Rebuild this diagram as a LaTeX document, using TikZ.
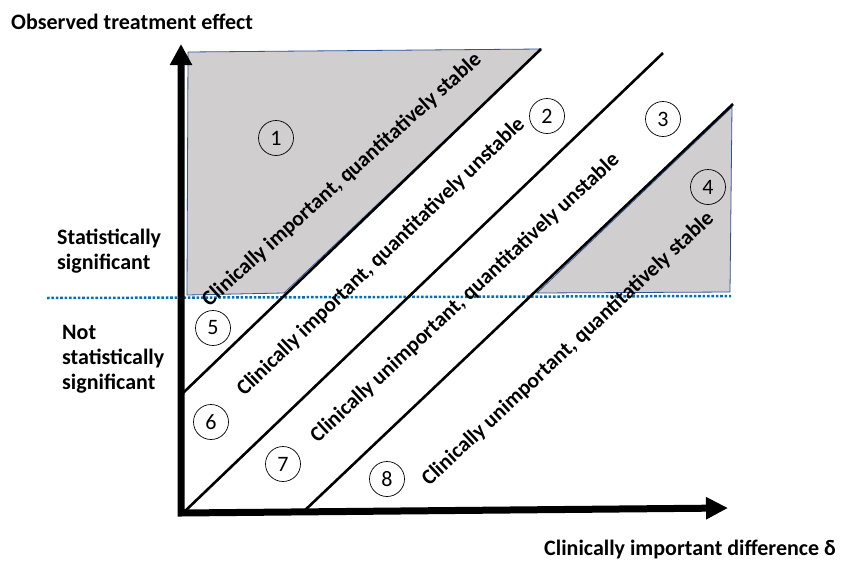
\documentclass[tikz,border=0pt]{standalone}
\usepackage{fontspec}
\setmainfont{Carlito}
\usetikzlibrary{arrows.meta}
\definecolor{regiongray}{RGB}{208,206,206}
\definecolor{regionedge}{RGB}{47,85,151}
\definecolor{sigblue}{RGB}{0,112,192}
\begin{document}
\begin{tikzpicture}[x=1pt,y=-1pt,
    axis/.style={line width=7pt,{Triangle[length=21pt,width=21pt]}-{Triangle[length=22pt,width=21pt]}},
    band/.style={line width=2.6pt},
    region/.style={fill=regiongray,draw=regionedge,line width=0.8pt},
    num/.style={circle,draw,line width=0.7pt,minimum size=35pt,inner sep=0pt,font=\fontsize{22}{22}\selectfont},
    zone/.style={font=\bfseries\fontsize{21.5}{22}\selectfont,inner sep=0pt},
    side/.style={font=\bfseries\fontsize{22}{25}\selectfont,align=left,anchor=west,inner sep=0pt}]
  \useasboundingbox (0,0) rectangle (843,565);
  % shaded regions
  \draw[region] (188,52) -- (541,49) -- (284,293) -- (187,295) -- cycle;
  \draw[region] (732,107) -- (730,292) -- (537,293) -- cycle;
  % significance threshold
  \coordinate (sigL) at (47,298);
  \coordinate (sigR) at (731,296);
  \draw[sigblue,line width=2.5pt,dash pattern=on 2.6pt off 1.8pt] (sigL) -- (sigR);
  % diagonals
  \coordinate (a0) at (183,393);
  \coordinate (a1) at (541,49);
  \coordinate (b0) at (183,513);
  \coordinate (b1) at (663,53);
  \coordinate (c0) at (302,513);
  \coordinate (c1) at (733,104);
  \draw[band] (a0) -- (a1);
  \draw[band] (b0) -- (b1);
  \draw[band] (c0) -- (c1);
  % axes
  \coordinate (O) at (181,513);
  \coordinate (ytip) at (181,44);
  \coordinate (xtip) at (728,508);
  \draw[axis] (ytip) -- (O) -- (xtip);
  % zone labels
  \node[zone,rotate=42] (z1) at (342,180) {Clinically important, quantitatively stable};
  \node[zone,rotate=44] (z2) at (381,257) {Clinically important, quantitatively unstable};
  \node[zone,rotate=43] (z3) at (465,298) {Clinically unimportant, quantitatively unstable};
  \node[zone,rotate=43] (z4) at (568,349) {Clinically unimportant, quantitatively stable};
  % region numbers
  \node[num] (n1) at (276,138) {1};
  \node[num] (n2) at (547,116) {2};
  \node[num] (n3) at (663,119) {3};
  \node[num] (n4) at (708,187) {4};
  \node[num] (n5) at (213,328) {5};
  \node[num] (n6) at (211,422) {6};
  \node[num] (n7) at (283,464) {7};
  \node[num] (n8) at (387,479) {8};
  % axis and side labels
  \node[side] (yl) at (11,22) {Observed treatment effect};
  \node[side] (sig) at (57,251) {Statistically\\significant};
  \node[side] (nsig) at (62,359) {Not\\statistically\\significant};
  \node[side,anchor=east] (xl) at (836,549) {Clinically important difference δ};
\end{tikzpicture}
\end{document}
